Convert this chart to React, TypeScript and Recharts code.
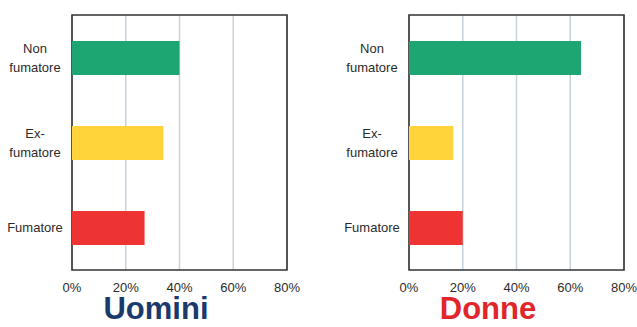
import { BarChart, Bar, XAxis, YAxis, CartesianGrid, ReferenceArea, Cell } from 'recharts'

const categories = ['Non fumatore', 'Ex- fumatore', 'Fumatore']
const categoryLines = [['Non', 'fumatore'], ['Ex-', 'fumatore'], ['Fumatore']]
const uominiValues = [40, 34, 27]
const donneValues = [64, 16.5, 20]
const xTicks = [0, 20, 40, 60, 80]
const barColors = ['#1ea672', '#ffd43a', '#ee3333']

const font = '"Liberation Sans", Arial, Helvetica, sans-serif'

const CategoryTick = (props: { x?: number; y?: number; payload?: { value: string } }) => {
  const y = props.y ?? 0
  const idx = categories.indexOf(props.payload?.value ?? '')
  const lines = categoryLines[idx] ?? [props.payload?.value ?? '']
  const step = 19
  const start = y - ((lines.length - 1) * step) / 2
  return (
    <text x={35} y={start} textAnchor="middle" fill="#2b2b2b" fontSize={13} fontFamily={font}>
      {lines.map((l, i) => (
        <tspan key={i} x={35} y={start + i * step} dy="0.35em">
          {l}
        </tspan>
      ))}
    </text>
  )
}

function Panel({ values, width }: { values: number[]; width: number }) {
  const data = categories.map((c, i) => ({ name: c, value: values[i] }))
  return (
    <BarChart
      width={width}
      height={327}
      data={data}
      layout="vertical"
      margin={{ top: 15, right: width - 287, bottom: 27, left: 0 }}
    >
      <CartesianGrid horizontal={false} stroke="#c6d4dd" strokeWidth={1.5} />
      <XAxis
        type="number"
        domain={[0, 80]}
        ticks={xTicks}
        tickFormatter={(v) => `${v}%`}
        tickLine={false}
        axisLine={false}
        tickMargin={7}
        height={30}
        tick={{ fill: '#2b2b2b', fontSize: 13, fontFamily: font }}
      />
      <YAxis
        type="category"
        dataKey="name"
        width={72}
        tickLine={false}
        axisLine={false}
        tick={<CategoryTick />}
      />
      <Bar dataKey="value" barSize={34} isAnimationActive={false}>
        {data.map((_, i) => (
          <Cell key={i} fill={barColors[i]} />
        ))}
      </Bar>
      <ReferenceArea x1={0} x2={80} fill="none" stroke="#333" strokeWidth={1.6} ifOverflow="visible" />
    </BarChart>
  )
}

const titleStyle = {
  position: 'absolute' as const,
  width: 200,
  top: 293,
  textAlign: 'center' as const,
  fontFamily: font,
  fontWeight: 700,
  fontSize: 31,
  lineHeight: '32px',
}

export default function App() {
  return (
    <div
      style={{
        position: 'fixed',
        left: 0,
        top: 0,
        width: 637,
        height: 327,
        background: '#fff',
        overflow: 'hidden',
      }}
    >
      <div style={{ position: 'absolute', left: 0, top: 0 }}>
        <Panel values={uominiValues} width={318} />
      </div>
      <div style={{ position: 'absolute', left: 337, top: 0 }}>
        <Panel values={donneValues} width={300} />
      </div>
      <div style={{ ...titleStyle, left: 56, color: '#1b3a6c' }}>Uomini</div>
      <div style={{ ...titleStyle, left: 388, color: '#e0262b' }}>Donne</div>
    </div>
  )
}
